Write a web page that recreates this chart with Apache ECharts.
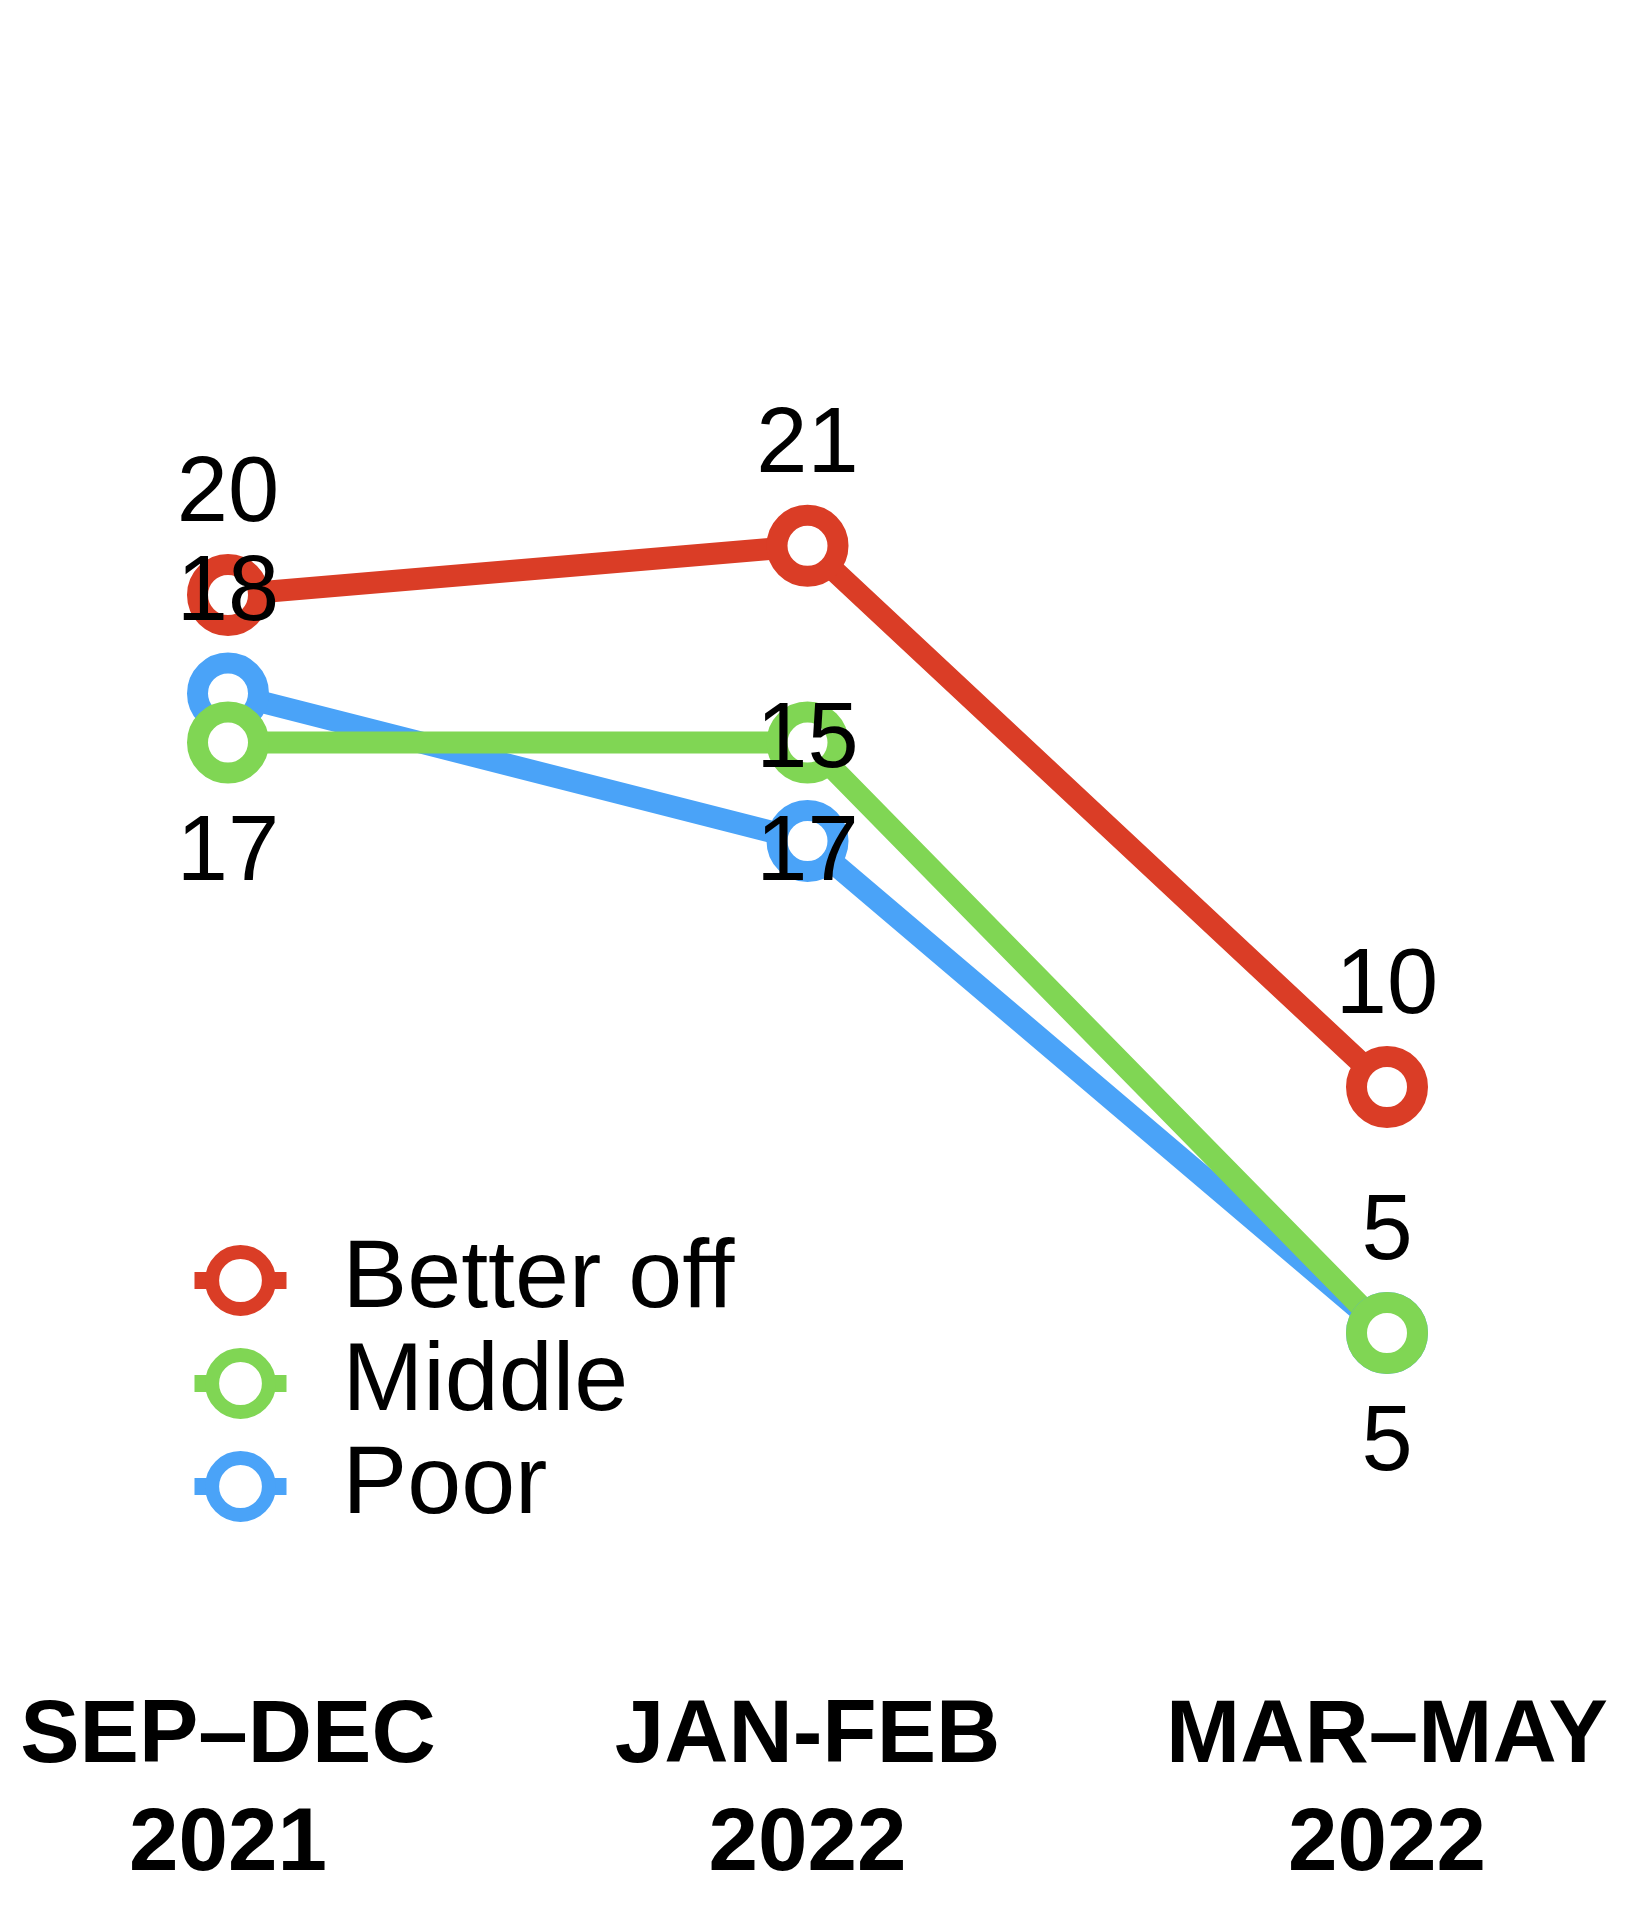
<!DOCTYPE html>
<html>
<head>
<meta charset="utf-8">
<style>
  html, body { margin: 0; padding: 0; background: #fff; }
  #chart { width: 1647px; height: 1920px; }
</style>
<script src="https://cdn.jsdelivr.net/npm/echarts@6/dist/echarts.min.js"></script>
</head>
<body>
<div id="chart"></div>
<script>
const categories = ['SEP\u2013DEC\n2021', 'JAN-FEB\n2022', 'MAR\u2013MAY\n2022'];
const betterOff = [20, 21, 10];
const middle = [17, 17, 5];
const poor = [18, 15, 5];
const seriesNames = ['Better off', 'Middle', 'Poor'];
const colors = { 'Better off': '#DA3D26', 'Middle': '#80D654', 'Poor': '#4AA3F8' };

const FONT = '"Liberation Sans", Arial, Helvetica, sans-serif';

function makeSeries(name, data, labelPos, dist) {
  const c = colors[name];
  return {
    name: name,
    type: 'line',
    data: data,
    symbol: 'circle',
    symbolSize: 61,
    lineStyle: { color: c, width: 22 },
    itemStyle: { color: '#fff', borderColor: c, borderWidth: 21 },
    label: {
      show: true,
      position: labelPos,
      distance: dist,
      color: '#000',
      fontSize: 92,
      fontFamily: FONT
    },
    emphasis: { disabled: true },
    animation: false
  };
}

const chart = echarts.init(document.getElementById('chart'));
chart.setOption({
  backgroundColor: '#fff',
  animation: false,
  grid: { left: 228, right: 260, top: 103, height: 1476 },
  legend: {
    data: seriesNames,
    orient: 'vertical',
    left: 181,
    top: 1227,
    itemWidth: 92,
    itemHeight: 71,
    itemGap: 6,
    itemStyle: { borderWidth: 14 },
    lineStyle: { width: 17 },
    textStyle: { fontSize: 97, color: '#000', fontFamily: FONT, padding: [0, 0, 0, 51] },
    selectedMode: false
  },
  xAxis: {
    type: 'category',
    data: categories,
    boundaryGap: false,
    axisLine: { show: false },
    axisTick: { show: false },
    splitLine: { show: false },
    axisLabel: {
      fontSize: 89,
      fontWeight: 'bold',
      lineHeight: 108,
      color: '#000',
      margin: 104,
      fontFamily: FONT,
      interval: 0
    }
  },
  yAxis: {
    type: 'value',
    min: 0,
    max: 30,
    show: false
  },
  series: [
    makeSeries('Better off', betterOff, 'top', 12),
    makeSeries('Poor', poor, 'top', 12),
    makeSeries('Middle', middle, 'bottom', 25)
  ]
});
</script>
</body>
</html>
